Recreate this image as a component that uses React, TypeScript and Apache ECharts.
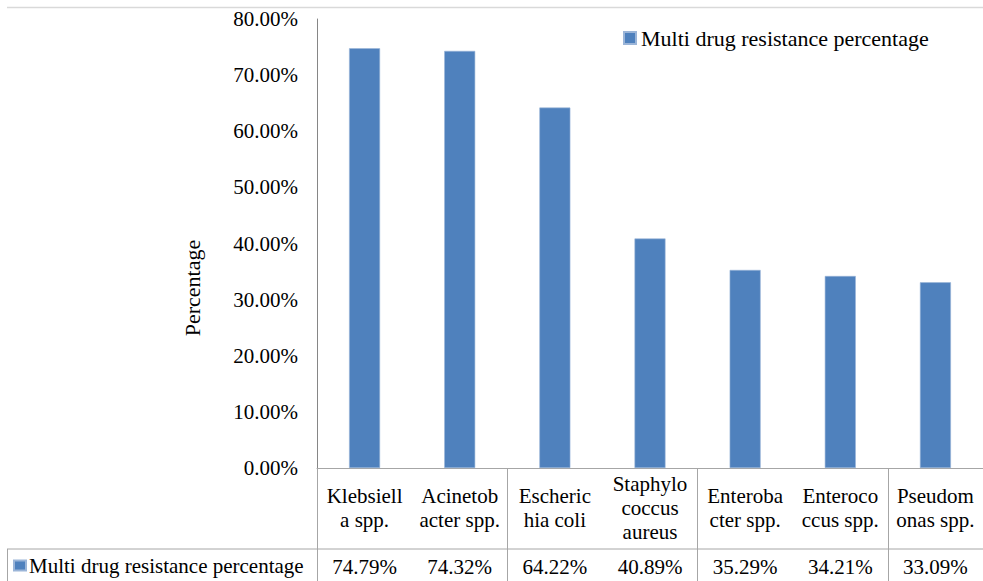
import React, { useEffect, useRef } from "react";
import * as echarts from "echarts";

const categories = [
  "Klebsiella spp.",
  "Acinetobacter spp.",
  "Escherichia coli",
  "Staphylococcus aureus",
  "Enterobacter spp.",
  "Enterococcus spp.",
  "Pseudomonas spp.",
];
const categoryLabels = [
  "Klebsiell\na spp.",
  "Acinetob\nacter spp.",
  "Escheric\nhia coli",
  "Staphylo\ncoccus\naureus",
  "Enteroba\ncter spp.",
  "Enteroco\nccus spp.",
  "Pseudom\nonas spp.",
];
const seriesName = "Multi drug resistance percentage";
const values = [74.79, 74.32, 64.22, 40.89, 35.29, 34.21, 33.09];
const yTickValues = [0, 10, 20, 30, 40, 50, 60, 70, 80];

const FONT = "Liberation Serif";
const LINE = "#a6a6a6";
const pct = (v: number) => v.toFixed(2) + "%";

export default function App() {
  const ref = useRef<HTMLDivElement>(null);
  useEffect(() => {
    if (!ref.current) return;
    const chart = echarts.init(ref.current, null, { renderer: "svg" });
    const catW = 676.67 / categories.length;
    const textEl = (x: number, y: number, text: string, align: string) => ({
      type: "text",
      silent: true,
      style: {
        x,
        y,
        text,
        font: `21px ${FONT}`,
        lineHeight: 24,
        fill: "#000",
        align,
        verticalAlign: "middle",
      },
    });
    chart.setOption({
      animation: false,
      backgroundColor: "#ffffff",
      textStyle: { fontFamily: FONT },
      grid: { left: 317, top: 19, width: 676.67, height: 449, containLabel: false },
      legend: [
        {
          data: [seriesName],
          left: 623,
          top: 27,
          padding: 0,
          itemWidth: 12,
          itemHeight: 12,
          icon: "rect",
          textStyle: { fontFamily: FONT, fontSize: 22, color: "#000" },
        },
        {
          data: [seriesName],
          left: 13,
          top: 555,
          padding: 0,
          itemWidth: 12,
          itemHeight: 10,
          icon: "rect",
          textStyle: { fontFamily: FONT, fontSize: 21, color: "#000", padding: [0, 0, 0, -2] },
        },
      ],
      xAxis: {
        type: "category",
        data: categories,
        position: "bottom",
        axisLine: { show: true, lineStyle: { color: LINE, width: 1 } },
        axisTick: { show: true, length: 113, lineStyle: { color: LINE, width: 1 } },
        axisLabel: { show: false },
      },
      yAxis: {
        type: "value",
        min: 0,
        max: 80,
        interval: 10,
        splitLine: { show: false },
        axisLine: { show: true, lineStyle: { color: "#868686", width: 1 } },
        axisTick: { show: false },
        axisLabel: { show: false },
      },
      series: [
        {
          name: seriesName,
          type: "bar",
          data: values,
          barWidth: Math.round(catW * 0.32),
          itemStyle: { color: "#4f81bd", borderColor: "#9bb5d8", borderWidth: 0.6 },
        },
        {
          name: "categoryLabels",
          type: "custom",
          clip: false,
          silent: true,
          data: categories.map((_, i) => [i, 0]),
          renderItem: (params: any, api: any) => {
            const i = api.value(0);
            const p = api.coord([i, 0]);
            return textEl(p[0], p[1] + 40, categoryLabels[i], "center");
          },
        },
        {
          name: "valueLabels",
          type: "custom",
          clip: false,
          silent: true,
          data: values.map((v, i) => [i, 0, v]),
          renderItem: (params: any, api: any) => {
            const i = api.value(0);
            const p = api.coord([i, 0]);
            return textEl(p[0], p[1] + 99, pct(api.value(2)), "center");
          },
        },
        {
          name: "yTickLabels",
          type: "custom",
          clip: false,
          silent: true,
          data: yTickValues.map((v) => [0, v]),
          renderItem: (params: any, api: any) => {
            const p = api.coord([0, api.value(1)]);
            return textEl(params.coordSys.x - 19, p[1], pct(api.value(1)), "right");
          },
        },
      ],
      graphic: [
        {
          type: "line",
          shape: { x1: 7, y1: 7.5, x2: 983, y2: 7.5 },
          style: { stroke: "#d9d9d9", lineWidth: 1.5 },
        },
        {
          type: "line",
          shape: { x1: 7, y1: 549, x2: 983, y2: 549 },
          style: { stroke: LINE, lineWidth: 1 },
        },
        {
          type: "line",
          shape: { x1: 7.5, y1: 549, x2: 7.5, y2: 581 },
          style: { stroke: LINE, lineWidth: 1 },
        },
        {
          type: "text",
          x: 192,
          y: 288,
          rotation: Math.PI / 2,
          style: {
            text: "Percentage",
            font: `22px ${FONT}`,
            fill: "#000",
            align: "center",
            verticalAlign: "middle",
          },
        },
      ],
    });
    return () => chart.dispose();
  }, []);
  return (
    <div
      ref={ref}
      style={{ position: "absolute", left: 0, top: 0, width: 983, height: 581, overflow: "hidden" }}
    />
  );
}
